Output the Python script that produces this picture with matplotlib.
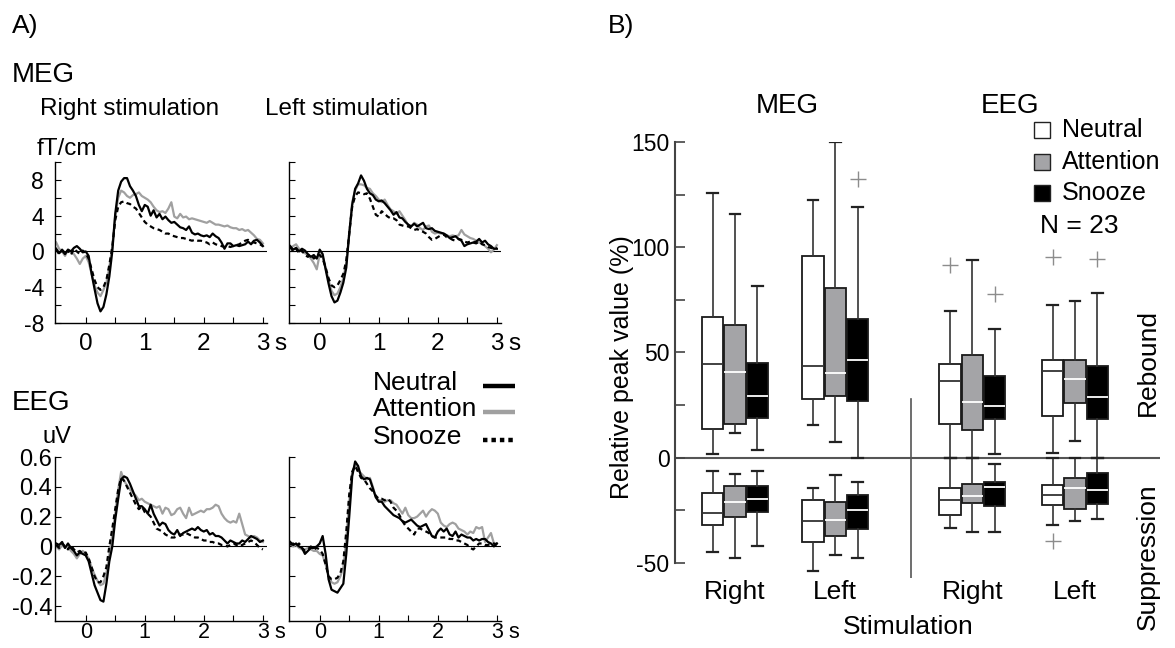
import numpy as np
import matplotlib
matplotlib.use('Agg')
import matplotlib.pyplot as plt
from matplotlib.lines import Line2D
from matplotlib.patches import Rectangle

plt.rcParams['font.family'] = ['Liberation Sans', 'DejaVu Sans']

# ---------------------------------------------------------------- data
# grand-average time courses, sampled every 50 ms from -0.5 to 3.0 s
t = np.round(np.arange(-0.5, 3.0001, 0.05), 2)

meg_right_neutral = [
    0.3, -0.2, 0.1, -0.3, 0.2, 0.0, 0.4, 0.6, 0.3, -0.1,
    0.0, -0.5, -2.5, -4.2, -5.8, -6.7, -6.2, -4.8, -2.8, 0.0,
    4.2, 6.8, 7.8, 8.2, 8.2, 7.3, 6.8, 6.2, 5.2, 4.5,
    5.2, 5.0, 4.0, 4.6, 3.8, 4.2, 3.6, 3.9, 3.5, 3.2,
    3.3, 3.0, 2.7, 2.6, 2.4, 2.8, 2.1, 1.9, 2.0, 1.8,
    1.7, 1.8, 1.6, 2.0, 1.7, 1.5, 1.0, 0.3, 0.9, 0.9,
    0.6, 0.7, 0.6, 0.7, 0.8, 1.1, 0.8, 1.2, 1.3, 1.0,
    0.6]
meg_right_attention = [
    1.0, 0.3, 0.0, -0.5, 0.2, 0.0, -0.3, -0.8, -1.4, -0.8,
    -0.5, -1.2, -2.5, -3.8, -4.6, -5.0, -4.3, -3.5, -1.8, 0.5,
    4.0, 6.0, 6.8, 6.6, 6.2, 6.0, 6.3, 6.4, 6.6, 6.2,
    6.0, 5.8, 5.5, 5.0, 4.6, 4.4, 4.5, 4.3, 4.8, 5.5,
    3.9, 3.7, 4.2, 3.8, 3.9, 3.6, 3.7, 3.6, 3.5, 3.4,
    3.3, 3.2, 3.4, 3.2, 3.0, 3.0, 2.9, 2.8, 2.9, 2.7,
    2.6, 2.6, 2.4, 2.5, 2.3, 2.4, 2.1, 1.8, 1.4, 1.3,
    0.9]
meg_right_snooze = [
    0.2, -0.3, 0.2, -0.2, 0.1, -0.4, 0.3, 0.0, -0.3, 0.1,
    -0.2, -0.8, -2.0, -3.2, -4.0, -4.3, -4.0, -3.2, -1.5, 0.5,
    3.5, 5.0, 5.5, 5.6, 5.4, 5.3, 5.0, 4.8, 4.3, 3.8,
    3.3, 3.0, 2.8, 2.6, 2.5, 2.4, 2.2, 2.0, 2.0, 1.8,
    1.7, 1.6, 1.5, 1.5, 1.4, 1.3, 1.2, 1.3, 1.2, 1.2,
    1.1, 1.0, 0.8, 1.0, 0.8, 0.7, 0.6, 0.5, 0.6, 0.5,
    0.6, 0.7, 0.8, 1.0, 1.2, 1.3, 1.1, 1.0, 0.9, 0.8,
    0.6]

meg_left_neutral = [
    0.6, 0.2, 0.4, 0.0, 0.3, 0.1, -0.3, -0.6, -0.4, -0.8,
    0.2, -0.3, -2.0, -3.6, -5.0, -5.7, -5.5, -4.6, -3.5, -1.8,
    2.0, 5.2, 7.0, 7.6, 8.5, 7.9, 7.0, 6.5, 6.3, 5.8,
    5.6, 5.7, 5.4, 5.0, 4.6, 4.1, 4.4, 3.8, 3.7, 3.3,
    3.0, 2.8, 3.1, 2.8, 3.0, 3.2, 2.6, 2.5, 2.6, 2.3,
    2.2, 2.1, 2.0, 1.8, 1.5, 1.6, 1.7, 1.4, 1.2, 0.6,
    0.8, 0.9, 1.0, 1.1, 1.4, 1.0, 1.2, 0.8, 0.6, 0.3,
    0.3]
meg_left_attention = [
    0.4, 0.6, 0.8, 0.3, 0.0, -0.2, -0.4, -0.8, -1.3, -2.0,
    -0.3, -0.6, -1.8, -3.2, -4.4, -4.9, -4.7, -4.0, -3.0, -1.3,
    2.0, 5.5, 6.8, 7.5, 7.5, 7.4, 7.1, 7.0, 6.5, 6.2,
    5.8, 5.5, 5.8, 5.2, 4.7, 4.5, 4.2, 4.5, 4.0, 3.5,
    2.9, 2.8, 3.2, 3.0, 2.6, 2.4, 2.8, 2.9, 2.2, 2.0,
    2.1, 2.0, 2.0, 1.8, 1.7, 1.8, 1.7, 1.8, 2.4, 1.9,
    1.7, 1.5, 1.4, 1.2, 1.0, 0.9, 0.6, 0.3, -0.1, 0.2,
    0.7]
meg_left_snooze = [
    0.5, 0.0, 0.3, -0.2, 0.1, -0.4, -0.6, -0.3, -0.8, -0.5,
    -0.4, -0.8, -1.8, -3.0, -3.8, -4.0, -3.8, -3.2, -2.5, -1.0,
    2.0, 5.0, 6.2, 6.6, 6.5, 6.4, 6.5, 5.9, 5.0, 4.1,
    3.9, 4.5, 4.2, 3.9, 3.7, 3.7, 3.5, 3.0, 2.9, 2.8,
    2.8, 2.6, 2.4, 2.5, 2.3, 2.2, 2.0, 1.6, 1.3, 1.4,
    1.6, 1.8, 1.9, 1.6, 1.5, 1.3, 1.2, 1.4, 1.3, 1.1,
    1.0, 1.1, 1.0, 0.9, 1.1, 0.8, 0.7, 0.5, 0.4, 0.3,
    0.4]

eeg_right_neutral = [
    0.02, 0.01, 0.03, -0.01, 0.02, -0.01, -0.03, -0.06, -0.04, -0.05,
    -0.06, -0.10, -0.18, -0.26, -0.31, -0.36, -0.37, -0.25, -0.10, 0.0,
    0.18, 0.32, 0.45, 0.47, 0.46, 0.42, 0.37, 0.32, 0.27, 0.27,
    0.25, 0.22, 0.28, 0.22, 0.18, 0.14, 0.16, 0.15, 0.11, 0.09,
    0.08, 0.11, 0.07, 0.09, 0.10, 0.11, 0.12, 0.11, 0.13, 0.11,
    0.10, 0.11, 0.08, 0.09, 0.07, 0.07, 0.06, 0.04, 0.02, 0.04,
    0.03, 0.02, 0.02, 0.04, 0.03, 0.05, 0.07, 0.06, 0.05, 0.03,
    0.04]
eeg_right_attention = [
    0.0, -0.02, 0.01, -0.01, 0.0, -0.03, -0.05, -0.08, -0.05, -0.03,
    -0.05, -0.08, -0.14, -0.19, -0.23, -0.26, -0.25, -0.18, -0.06, 0.08,
    0.22, 0.38, 0.50, 0.44, 0.41, 0.38, 0.36, 0.34, 0.31, 0.32,
    0.30, 0.29, 0.28, 0.27, 0.26, 0.27, 0.22, 0.26, 0.25, 0.21,
    0.22, 0.25, 0.26, 0.22, 0.19, 0.26, 0.21, 0.22, 0.23, 0.24,
    0.23, 0.25, 0.25, 0.26, 0.28, 0.27, 0.22, 0.19, 0.17, 0.16,
    0.17, 0.16, 0.22, 0.15, 0.08, 0.07, 0.06, 0.07, 0.06, 0.04,
    0.03]
eeg_right_snooze = [
    0.01, -0.01, 0.02, 0.0, -0.02, 0.01, -0.02, -0.04, -0.03, -0.05,
    -0.04, -0.08, -0.14, -0.20, -0.24, -0.24, -0.20, -0.14, 0.0, 0.12,
    0.25, 0.38, 0.46, 0.44, 0.40, 0.36, 0.32, 0.28, 0.25, 0.27,
    0.23, 0.22, 0.20, 0.16, 0.12, 0.11, 0.10, 0.08, 0.07, 0.06,
    0.06, 0.07, 0.08, 0.08, 0.09, 0.08, 0.07, 0.06, 0.06, 0.05,
    0.04, 0.04, 0.03, 0.03, 0.02, 0.02, 0.01, 0.01, 0.0, 0.01,
    0.02, 0.01, 0.0, 0.01, 0.02, 0.03, 0.04, 0.03, 0.01, -0.01,
    -0.02]

eeg_left_neutral = [
    0.03, 0.01, 0.02, 0.0, -0.01, -0.05, -0.03, -0.01, -0.01, 0.0,
    0.02, 0.07, -0.05, -0.22, -0.29, -0.30, -0.31, -0.28, -0.25, -0.05,
    0.20, 0.47, 0.57, 0.54, 0.47, 0.45, 0.46, 0.45, 0.39, 0.33,
    0.30, 0.30, 0.27, 0.25, 0.23, 0.21, 0.20, 0.19, 0.17, 0.16,
    0.17, 0.18, 0.16, 0.14, 0.13, 0.14, 0.15, 0.11, 0.07, 0.06,
    0.10, 0.12, 0.10, 0.12, 0.08, 0.07, 0.10, 0.06, 0.08, 0.07,
    0.06, 0.06, 0.04, 0.05, 0.04, 0.05, 0.05, 0.03, 0.02, 0.00,
    0.02]
eeg_left_attention = [
    0.02, 0.00, 0.01, -0.01, -0.02, -0.02, -0.01, -0.02, -0.03, -0.03,
    -0.05, -0.06, -0.12, -0.20, -0.24, -0.25, -0.24, -0.20, -0.14, 0.05,
    0.30, 0.50, 0.55, 0.51, 0.49, 0.47, 0.45, 0.46, 0.40, 0.33,
    0.31, 0.31, 0.30, 0.31, 0.31, 0.29, 0.28, 0.25, 0.22, 0.26,
    0.21, 0.19, 0.19, 0.20, 0.22, 0.24, 0.20, 0.23, 0.25, 0.24,
    0.22, 0.16, 0.14, 0.13, 0.15, 0.16, 0.15, 0.12, 0.11, 0.10,
    0.08, 0.10, 0.09, 0.13, 0.12, 0.13, 0.03, 0.06, 0.09, 0.02,
    0.02]
eeg_left_snooze = [
    0.01, 0.02, 0.00, 0.02, -0.01, -0.03, -0.02, 0.00, -0.02, -0.01,
    -0.02, -0.05, -0.12, -0.20, -0.22, -0.22, -0.21, -0.18, -0.10, 0.10,
    0.35, 0.50, 0.54, 0.50, 0.46, 0.45, 0.42, 0.39, 0.37, 0.34,
    0.32, 0.32, 0.31, 0.32, 0.30, 0.26, 0.24, 0.21, 0.17, 0.14,
    0.12, 0.10, 0.08, 0.12, 0.12, 0.11, 0.10, 0.09, 0.07, 0.06,
    0.06, 0.06, 0.06, 0.06, 0.05, 0.05, 0.04, 0.04, 0.03, 0.02,
    0.01, -0.01, -0.02, 0.00, 0.02, 0.02, 0.01, 0.01, 0.02, 0.02,
    0.01]

# relative peak values (%), one row per group: MEG right, MEG left, EEG right, EEG left
# columns: lower whisker, Q1, median, Q3, upper whisker
groups = ['Right', 'Left', 'Right', 'Left']
rebound_neutral = [[1.6, 13.8, 44.6, 67.0, 126.0], [15.4, 28.0, 43.8, 96.0, 122.6],
                   [0.0, 15.8, 36.4, 44.3, 69.7], [2.2, 19.6, 41.2, 46.2, 72.4]]
rebound_attention = [[11.9, 16.2, 40.8, 62.9, 116.0], [7.6, 29.5, 40.4, 80.8, 150.0],
                     [0.0, 13.3, 26.4, 48.6, 94.0], [7.8, 26.0, 37.5, 46.6, 74.3]]
rebound_snooze = [[3.5, 19.0, 29.5, 45.1, 81.7], [0.1, 26.8, 46.2, 65.7, 119.0],
                  [1.6, 18.5, 24.4, 38.8, 61.0], [0.0, 18.5, 28.8, 43.4, 78.2]]
suppression_neutral = [[-44.8, -32.1, -26.3, -16.6, -6.5], [-54.0, -40.2, -30.1, -20.1, -14.4],
                       [-33.3, -27.1, -20.0, -14.4, 0.0], [-31.8, -22.6, -17.9, -12.8, 0.0]]
suppression_attention = [[-47.5, -28.2, -21.0, -13.5, -7.8], [-46.4, -37.4, -29.6, -21.2, -8.1],
                         [-35.3, -21.4, -18.0, -12.4, 0.0], [-30.1, -24.2, -14.4, -9.7, 0.0]]
suppression_snooze = [[-42.1, -25.7, -19.5, -13.5, -6.2], [-47.7, -34.0, -25.0, -17.9, -11.4],
                      [-35.3, -23.1, -13.9, -11.6, -3.2], [-29.1, -22.2, -15.2, -7.1, 0.0]]
# outliers
rebound_neutral_out = [[], [], [91.4], [95.3]]
rebound_attention_out = [[], [], [], []]
rebound_snooze_out = [[], [132.5], [77.6], [94.5]]
suppression_neutral_out = [[], [], [], [-39.7]]
suppression_attention_out = [[], [], [], []]
suppression_snooze_out = [[], [], [], []]

conditions = ['Neutral', 'Attention', 'Snooze']

# ---------------------------------------------------------------- layout
W, H = 1175, 648
fig = plt.figure(figsize=(W / 100, H / 100), dpi=100)


def frac(x, y):
    return x / W, 1 - y / H


def rect(x0, y0, x1, y1):
    return [x0 / W, 1 - y1 / H, (x1 - x0) / W, (y1 - y0) / H]


GRAY = '#a0a0a0'


def wave_panel(box, series, ylim, yticks, yminor, ylabels, show_ylabels,
               xpad, xsize, ypad, ysize):
    ax = fig.add_axes(box)
    neutral, attention, snooze = series
    for s in series:
        assert len(s) == len(t)
    ax.axhline(0, color='black', lw=0.8, zorder=1)
    ax.plot(t, attention, color=GRAY, lw=1.6, zorder=2)
    ax.plot(t, snooze, color='black', lw=1.6, dashes=(2.2, 1.6), zorder=3)
    ax.plot(t, neutral, color='black', lw=1.6, zorder=4)
    ax.set_xlim(-0.52, 3.07)
    ax.set_ylim(*ylim)
    for side in ('top', 'right'):
        ax.spines[side].set_visible(False)
    for side in ('left', 'bottom'):
        ax.spines[side].set_linewidth(1.0)
    ax.set_xticks([0, 1, 2, 3])
    ax.set_xticklabels(['0', '1', '2', '3'])
    ax.set_xticks([0.5, 1.5, 2.5], minor=True)
    ax.set_yticks(yticks)
    ax.set_yticks(yminor, minor=True)
    if show_ylabels:
        ax.set_yticklabels(ylabels)
    else:
        ax.set_yticklabels([])
    ax.tick_params(axis='both', which='both', direction='in', length=4, width=0.8)
    ax.tick_params(axis='x', labelsize=xsize, pad=xpad)
    ax.tick_params(axis='y', labelsize=ysize, pad=ypad)
    ax.annotate('s', xy=(3, 0), xycoords=ax.get_xaxis_transform(),
                xytext=(8, -xpad), textcoords='offset points',
                ha='left', va='top', fontsize=xsize)
    return ax


meg_ylim = (-8, 10)
meg_ticks = [-8, -4, 0, 4, 8]
meg_minor = [-6, -2, 2, 6, 10]
meg_labels = ['-8', '-4', '0', '4', '8']
eeg_ylim = (-0.5, 0.6)
eeg_ticks = [-0.4, -0.2, 0, 0.2, 0.4, 0.6]
eeg_labels = ['-0.4', '-0.2', '0', '0.2', '0.4', '0.6']

wave_panel(rect(55, 162, 267, 323),
           (meg_right_neutral, meg_right_attention, meg_right_snooze),
           meg_ylim, meg_ticks, meg_minor, meg_labels, True, 7, 17.5, 8, 16.5)
wave_panel(rect(289, 162, 501, 323),
           (meg_left_neutral, meg_left_attention, meg_left_snooze),
           meg_ylim, meg_ticks, meg_minor, meg_labels, False, 7, 17.5, 8, 16.5)
wave_panel(rect(55, 457, 267, 621),
           (eeg_right_neutral, eeg_right_attention, eeg_right_snooze),
           eeg_ylim, eeg_ticks, [], eeg_labels, True, 1, 15.5, 2, 17)
wave_panel(rect(289, 457, 501, 621),
           (eeg_left_neutral, eeg_left_attention, eeg_left_snooze),
           eeg_ylim, eeg_ticks, [], eeg_labels, False, 1, 15.5, 2, 17)

# panel A texts
fig.text(*frac(12, 33), 'A)', fontsize=19, va='baseline')
fig.text(*frac(12, 82), 'MEG', fontsize=20, va='baseline')
fig.text(*frac(40, 115), 'Right stimulation', fontsize=17.5, va='baseline')
fig.text(*frac(265, 115), 'Left stimulation', fontsize=17.5, va='baseline')
fig.text(*frac(37, 155), 'fT/cm', fontsize=17.5, va='baseline')
fig.text(*frac(12, 410), 'EEG', fontsize=20, va='baseline')
fig.text(*frac(43, 443), 'uV', fontsize=17, va='baseline')

# panel A legend
leg_rows = [(390, 'black', '-'), (416, GRAY, '-'), (444, 'black', (0, (1.0, 0.9)))]
for (yb, col, ls), name in zip(leg_rows, conditions):
    fig.text(*frac(373, yb), name, fontsize=19, va='baseline')
    x0, y0 = frac(483, yb - 4)
    x1, _ = frac(515, yb - 4)
    fig.add_artist(Line2D([x0, x1], [y0, y0], transform=fig.transFigure,
                          color=col, lw=3.2, linestyle=ls, solid_capstyle='butt',
                          dash_capstyle='butt'))

# ---------------------------------------------------------------- panel B
axb = fig.add_axes(rect(675, 142, 1160, 577.7))
axb.set_ylim(-57, 150)
axb.set_xlim(-2.69, 19.06)
group_x = [0.0, 4.5, 10.65, 15.25]
sep_x = 7.89

styles = {
    'Neutral': dict(face='white', median='#333333'),
    'Attention': dict(face='#a4a4a7', median='white'),
    'Snooze': dict(face='black', median='white'),
}
reb = {'Neutral': (rebound_neutral, rebound_neutral_out),
       'Attention': (rebound_attention, rebound_attention_out),
       'Snooze': (rebound_snooze, rebound_snooze_out)}
sup = {'Neutral': (suppression_neutral, suppression_neutral_out),
       'Attention': (suppression_attention, suppression_attention_out),
       'Snooze': (suppression_snooze, suppression_snooze_out)}

axb.axhline(0, color='#555555', lw=1.5, zorder=0.5)
axb.axvline(sep_x, ymin=0, ymax=(28 + 57) / 207, color='#555555', lw=1.2)

for k, cond in enumerate(conditions):
    stats, pos = [], []
    for table in (reb, sup):
        values, outliers = table[cond]
        for g, (row, fl) in enumerate(zip(values, outliers)):
            lo, q1, med, q3, hi = row
            stats.append(dict(whislo=lo, q1=q1, med=med, q3=q3, whishi=hi, fliers=fl))
            pos.append(group_x[g] + (k - 1))
    st = styles[cond]
    axb.bxp(stats, positions=pos, widths=0.96, patch_artist=True,
            showfliers=True, manage_ticks=False,
            boxprops=dict(facecolor=st['face'], edgecolor='#1a1a1a', linewidth=1.3),
            medianprops=dict(color=st['median'], linewidth=1.3),
            whiskerprops=dict(color='#333333', linewidth=1.2),
            capprops=dict(color='#222222', linewidth=1.6),
            flierprops=dict(marker='+', markeredgecolor='#8c8c8c',
                            markersize=11, markeredgewidth=1.0))

for side in ('top', 'right', 'bottom'):
    axb.spines[side].set_visible(False)
axb.spines['left'].set_bounds(-50, 150)
axb.spines['left'].set_color('#444444')
axb.spines['left'].set_linewidth(1.5)
axb.set_yticks([-50, 0, 50, 100, 150])
axb.set_yticklabels(['-50', '0', '50', '100', '150'])
axb.set_yticks([-25, 25, 75, 125], minor=True)
axb.tick_params(axis='y', which='both', direction='in', length=7, width=1.2,
                color='#444444', labelsize=16.5, pad=4)
axb.set_xticks(group_x)
axb.set_xticklabels(groups)
axb.tick_params(axis='x', length=0, labelsize=19, pad=2)

fig.text(*frac(608, 33), 'B)', fontsize=19, va='baseline')
fig.text(*frac(787, 113), 'MEG', fontsize=20, ha='center', va='baseline')
fig.text(*frac(1010, 113), 'EEG', fontsize=20, ha='center', va='baseline')
fig.text(*frac(622, 367), 'Relative peak value (%)', fontsize=18,
         rotation=90, ha='center', va='center')
fig.text(*frac(908, 627), 'Stimulation', fontsize=19, ha='center', va='center')
fig.text(*frac(1148, 362), 'Rebound', fontsize=19, rotation=90, ha='center', va='center')
fig.text(*frac(1148, 557), 'Suppression', fontsize=19, rotation=90, ha='center', va='center')

# panel B legend
for yc, cond in zip([130, 162, 193], conditions):
    x0, y0 = frac(1034, yc + 8)
    fig.add_artist(Rectangle((x0, y0), 16 / W, 16 / H, transform=fig.transFigure,
                             facecolor=styles[cond]['face'], edgecolor='#222222', lw=1.0))
    fig.text(*frac(1062, yc), cond, fontsize=18, va='center')
fig.text(*frac(1040, 226), 'N = 23', fontsize=19, va='center')

fig.savefig('out.png', dpi=100)
